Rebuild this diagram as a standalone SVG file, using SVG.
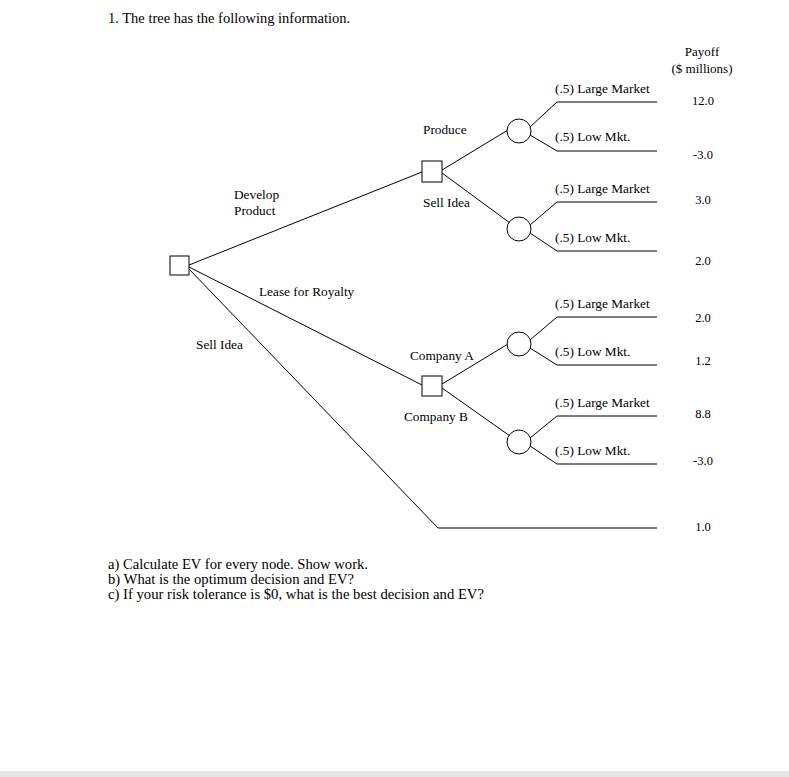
<svg xmlns="http://www.w3.org/2000/svg" width="789" height="777" viewBox="0 0 789 777">
<style>
text{font-family:"Liberation Serif","Times New Roman",serif;fill:#000}
.t{font-size:14.5px}
.q{font-size:13.6px}
.l{font-size:13.3px}
.h{font-size:13px;text-anchor:middle}
.p{font-size:12.5px;text-anchor:middle}
.n{fill:#fff;stroke:#000;stroke-width:1}
.c{fill:none;stroke:#000;stroke-width:1}
</style>
<rect width="789" height="777" fill="#fff"/>
<rect x="0" y="771" width="789" height="6" fill="#e6e6e6"/>
<text class="t" x="108" y="23">1. The tree has the following information.</text>
<g id="connectors">
<line class="c" x1="189" y1="265" x2="422" y2="172"/>
<line class="c" x1="189" y1="267" x2="422" y2="385"/>
<polyline class="c" points="189,269 438,528 657,528"/>
<line class="c" x1="442" y1="170" x2="508" y2="130"/>
<line class="c" x1="442" y1="173" x2="510" y2="223"/>
<polyline class="c" points="530,127 557,102 657,102"/>
<polyline class="c" points="530,135 557,151 657,151"/>
<polyline class="c" points="530,225 557,202 657,202"/>
<polyline class="c" points="530,233 557,251 657,251"/>
<line class="c" x1="442" y1="384" x2="508" y2="344"/>
<line class="c" x1="442" y1="388" x2="510" y2="436"/>
<polyline class="c" points="530,340 557,317 657,317"/>
<polyline class="c" points="530,348 557,365 657,365"/>
<polyline class="c" points="530,438 557,416 657,416"/>
<polyline class="c" points="530,446 557,464 657,464"/>
</g>
<g id="root"><rect class="n" x="170" y="256" width="19" height="19"/></g>
<g id="develop"><rect class="n" x="422" y="161" width="20" height="21"/></g>
<g id="lease"><rect class="n" x="422" y="376" width="20" height="20"/></g>
<g id="chance1"><circle class="n" cx="519" cy="131" r="12"/></g>
<g id="chance2"><circle class="n" cx="519" cy="229" r="12"/></g>
<g id="chance3"><circle class="n" cx="519" cy="344" r="12"/></g>
<g id="chance4"><circle class="n" cx="519" cy="442" r="12"/></g>
<g id="labels">
<text class="l" x="234" y="199">Develop</text>
<text class="l" x="234" y="215">Product</text>
<text class="l" x="259" y="296">Lease for Royalty</text>
<text class="l" x="196" y="349">Sell Idea</text>
<text class="l" x="423" y="134">Produce</text>
<text class="l" x="423" y="207">Sell Idea</text>
<text class="l" x="410" y="360">Company A</text>
<text class="l" x="404" y="421">Company B</text>
<text class="l" x="555" y="93">(.5) Large Market</text>
<text class="l" x="555" y="141">(.5) Low Mkt.</text>
<text class="l" x="555" y="193">(.5) Large Market</text>
<text class="l" x="555" y="242">(.5) Low Mkt.</text>
<text class="l" x="555" y="308">(.5) Large Market</text>
<text class="l" x="555" y="356">(.5) Low Mkt.</text>
<text class="l" x="555" y="407">(.5) Large Market</text>
<text class="l" x="555" y="455">(.5) Low Mkt.</text>
</g>
<g id="payoffs">
<text class="h" x="702" y="56">Payoff</text>
<text class="h" x="702" y="73">($ millions)</text>
<text class="p" x="703" y="105">12.0</text>
<text class="p" x="703" y="159">-3.0</text>
<text class="p" x="703" y="204">3.0</text>
<text class="p" x="703" y="265">2.0</text>
<text class="p" x="703" y="322">2.0</text>
<text class="p" x="703" y="365">1.2</text>
<text class="p" x="703" y="418">8.8</text>
<text class="p" x="703" y="465">-3.0</text>
<text class="p" x="703" y="531">1.0</text>
</g>
<g id="questions">
<text class="q" x="108" y="569" textLength="260" lengthAdjust="spacingAndGlyphs">a) Calculate EV for every node. Show work.</text>
<text class="q" x="108" y="584" textLength="246" lengthAdjust="spacingAndGlyphs">b) What is the optimum decision and EV?</text>
<text class="q" x="108" y="599" textLength="376" lengthAdjust="spacingAndGlyphs">c) If your risk tolerance is $0, what is the best decision and EV?</text>
</g>
</svg>
